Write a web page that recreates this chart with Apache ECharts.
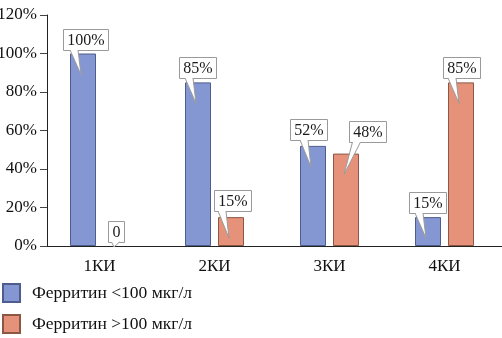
<!DOCTYPE html>
<html>
<head>
<meta charset="utf-8">
<script src="https://cdn.jsdelivr.net/npm/echarts@6/dist/echarts.min.js"></script>
<style>
  html, body { margin: 0; padding: 0; background: #fff; }
  #chart { width: 502px; height: 338px; }
</style>
</head>
<body>
<div id="chart"></div>
<script>
// Groups and shares of patients by ferritin level
const categories = ['1КИ', '2КИ', '3КИ', '4КИ'];
const seriesNames = ['Ферритин <100 мкг/л', 'Ферритин >100 мкг/л'];
const lowFerritin = [100, 85, 52, 15];
const highFerritin = [0, 15, 48, 85];
const valueTicks = [0, 20, 40, 60, 80, 100, 120];

// Callout nudges (px): horizontal shift of the box, extra lift above the bar
const calloutDx = [[2, -1, -5, -1], [0, 1, 21, 0]];
const calloutLift = [[0, 0, 2, 0], [0, 2, 8, 0]];

const FONT = 'Liberation Serif';
const BAR_W = 26;
const BAR_GAP_PX = 7;
const colors = [
  { fill: '#8597d3', border: '#4e5c8e' },
  { fill: '#e6927a', border: '#8c5844' }
];

const measureCtx = document.createElement('canvas').getContext('2d');
measureCtx.font = '16px "' + FONT + '"';

function labelText(v) { return v === 0 ? '0' : v + '%'; }

// Zero-height bars get no outline so nothing shows on the axis
function barData(values) {
  return values.map(v => (v === 0 ? { value: v, itemStyle: { borderWidth: 0 } } : v));
}

function calloutRenderer(sIdx) {
  const half = (BAR_W + BAR_GAP_PX) / 2;
  const side = sIdx === 0 ? -1 : 1;
  return function (params, api) {
    const i = api.value(0);
    const v = api.value(1);
    const top = api.coord([i, v]);
    const base = api.coord([i, 0]);
    const cx = top[0] + side * half;
    const barTop = top[1];
    const text = labelText(v);
    const tw = measureCtx.measureText(text).width;
    const w = Math.round(tw + 8);
    const h = 21;
    const boxCx = cx + calloutDx[sIdx][i];
    const boxL = Math.round(boxCx - w / 2) + 0.5;
    const boxB = Math.round(barTop - 4 - calloutLift[sIdx][i]) + 0.5;
    const boxT = boxB - h;
    const tipX = cx - 2;
    const tipY = Math.min(barTop + 21, base[1] + 1);
    let bl = Math.max(tipX - 11, boxL + 3);
    bl = Math.min(bl, boxL + w - 11);
    const br = bl + 8;
    return {
      type: 'group',
      children: [
        {
          type: 'rect',
          shape: { x: boxL, y: boxT, width: w, height: h },
          style: { fill: '#fff', stroke: '#9a9a9a', lineWidth: 1 }
        },
        {
          type: 'polyline',
          shape: { points: [[bl, boxB - 0.5], [tipX, tipY], [br, boxB - 0.5]] },
          style: { fill: '#fff', stroke: '#9a9a9a', lineWidth: 1 }
        },
        {
          type: 'text',
          style: {
            x: boxL + w / 2, y: boxT + h / 2 + 1,
            text: text, align: 'center', verticalAlign: 'middle',
            font: '16px "' + FONT + '"', fill: '#1a1a1a'
          }
        }
      ]
    };
  };
}

const chart = echarts.init(document.getElementById('chart'), null, { renderer: 'canvas' });

chart.setOption({
  animation: false,
  backgroundColor: '#fff',
  grid: { left: 42, right: 0, top: 15, height: 231, containLabel: false, outerBoundsMode: 'none' },
  legend: {
    data: seriesNames,
    orient: 'vertical',
    left: 2,
    top: 283,
    padding: 0,
    itemWidth: 17,
    itemHeight: 18,
    itemGap: 11,
    icon: 'rect',
    textStyle: { fontFamily: FONT, fontSize: 17.5, color: '#111', lineHeight: 18, padding: [0, 0, 0, 7] }
  },
  xAxis: {
    type: 'category',
    data: categories,
    axisLine: { lineStyle: { color: '#222', width: 1 } },
    axisTick: { show: false },
    axisLabel: { fontFamily: FONT, fontSize: 17, color: '#111', margin: 12 }
  },
  yAxis: {
    type: 'value',
    offset: -5,
    min: valueTicks[0],
    max: valueTicks[valueTicks.length - 1],
    interval: valueTicks[1] - valueTicks[0],
    axisLine: { show: true, lineStyle: { color: '#222', width: 1 } },
    axisTick: { show: true, length: 7, lineStyle: { color: '#444' } },
    splitLine: { show: false },
    axisLabel: { formatter: '{value}%', fontFamily: FONT, fontSize: 17, color: '#111', margin: 10 }
  },
  series: [
    {
      name: seriesNames[0],
      type: 'bar',
      data: barData(lowFerritin),
      barWidth: BAR_W,
      barGap: (BAR_GAP_PX / BAR_W * 100) + '%',
      itemStyle: { color: colors[0].fill, borderColor: colors[0].border, borderWidth: 1 }
    },
    {
      name: seriesNames[1],
      type: 'bar',
      data: barData(highFerritin),
      barWidth: BAR_W,
      barGap: (BAR_GAP_PX / BAR_W * 100) + '%',
      itemStyle: { color: colors[1].fill, borderColor: colors[1].border, borderWidth: 1 }
    },
    {
      type: 'custom',
      name: 'callouts-low',
      renderItem: calloutRenderer(0),
      data: lowFerritin.map((v, i) => [i, v]),
      clip: false,
      z: 5
    },
    {
      type: 'custom',
      name: 'callouts-high',
      renderItem: calloutRenderer(1),
      data: highFerritin.map((v, i) => [i, v]),
      clip: false,
      z: 5
    }
  ]
});
</script>
</body>
</html>
